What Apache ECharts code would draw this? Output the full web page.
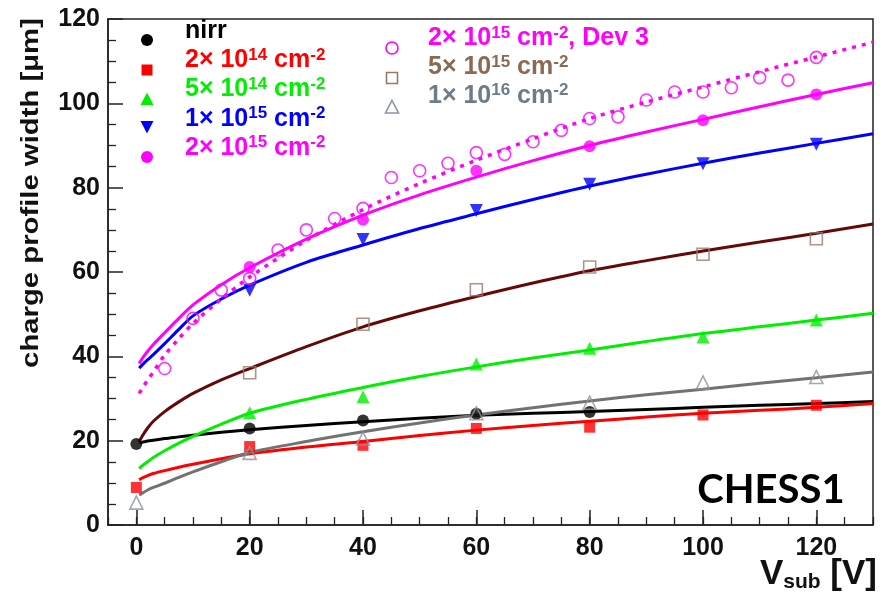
<!DOCTYPE html>
<html><head><meta charset="utf-8">
<script src="https://cdn.jsdelivr.net/npm/echarts@6/dist/echarts.min.js"></script>
<style>html,body{margin:0;padding:0;background:#fff}#c{width:889px;height:594px}</style>
</head><body><div id="c"></div>
<script>
// ---------- data ----------
const xTicks = [0, 20, 40, 60, 80, 100, 120];
const yTicks = [0, 20, 40, 60, 80, 100, 120];

const xNirr = [0, 20, 40, 60, 80];
const yNirr = [19.2, 22.9, 24.8, 26.4, 26.8];
const x2e14 = [0, 20, 40, 60, 80, 100, 120];
const y2e14 = [8.9, 18.6, 18.9, 22.9, 23.2, 26.1, 28.4];
const x5e14 = [20, 40, 60, 80, 100, 120];
const y5e14 = [26.6, 30.4, 38.2, 41.9, 44.6, 48.6];
const x1e15 = [20, 40, 60, 80, 100, 120];
const y1e15 = [55.7, 67.7, 74.6, 80.8, 85.7, 90.3];
const x2e15 = [20, 40, 60, 80, 100, 120];
const y2e15 = [61.2, 72.4, 84.0, 89.8, 96.0, 102.1];
const xDev3 = [5, 10, 15, 20, 25, 30, 35, 40, 45, 50, 55, 60, 65, 70, 75, 80, 85, 90, 95, 100, 105, 110, 115, 120];
const yDev3 = [37.1, 49.0, 55.7, 58.5, 65.2, 70.0, 72.7, 75.1, 82.4, 84.0, 85.8, 88.3, 87.9, 90.9, 93.6, 96.4, 96.8, 100.8, 102.7, 102.7, 103.7, 106.1, 105.5, 110.9];
const x5e15 = [20, 40, 60, 80, 100, 120];
const y5e15 = [36.1, 47.6, 55.8, 61.2, 64.2, 67.9];
const x1e16 = [0, 20, 40, 60, 80, 100, 120];
const y1e16 = [5.3, 17.1, 20.5, 26.5, 29.0, 33.8, 35.1];

// fit curves at these voltages
const fitX    = [0.5, 1, 2, 3, 5, 7.5, 10, 15, 20, 30, 40, 50, 60, 70, 80, 90, 100, 110, 120, 130];
const fitNirr = [19.5, 19.6, 19.9, 20.1, 20.5, 20.9, 21.3, 22.0, 22.6, 23.6, 24.5, 25.3, 26.0, 26.5, 26.9, 27.4, 27.9, 28.4, 28.8, 29.3];
const fit2e14 = [10.7, 11.1, 11.7, 12.2, 12.9, 13.7, 14.4, 15.7, 16.9, 18.5, 19.8, 21.2, 22.5, 23.6, 24.6, 25.6, 26.5, 27.2, 27.9, 28.8];
const fit5e14 = [13.4, 14.0, 15.0, 16.0, 17.6, 19.4, 21.0, 23.9, 26.5, 29.8, 32.6, 35.2, 37.5, 39.6, 41.5, 43.5, 45.4, 47.0, 48.6, 50.2];
const fit1e15 = [37.2, 37.9, 39.2, 40.4, 43.0, 46.4, 49.6, 53.6, 56.9, 62.3, 66.4, 70.3, 73.8, 77.2, 80.4, 83.2, 85.8, 88.2, 90.5, 92.8];
const fit2e15 = [38.3, 39.4, 41.2, 42.8, 45.6, 49.0, 52.2, 57.0, 61.0, 67.8, 73.5, 78.3, 82.5, 86.4, 90.0, 93.2, 96.2, 99.2, 102.1, 104.9];
const fitDev3 = [31.2, 32.3, 34.4, 36.3, 40.3, 44.2, 47.8, 53.6, 58.8, 67.5, 74.8, 81.0, 86.5, 91.6, 96.4, 100.3, 103.9, 107.5, 111.0, 114.5];
const fit5e15 = [19.7, 21.0, 23.0, 24.6, 26.9, 29.2, 31.2, 34.4, 37.1, 42.3, 47.0, 50.8, 54.2, 57.4, 60.3, 62.7, 65.0, 67.1, 69.2, 71.4];
const fit1e16 = [7.1, 7.5, 8.3, 8.9, 9.9, 11.3, 12.6, 15.0, 17.2, 19.8, 22.1, 24.2, 26.1, 27.8, 29.4, 30.9, 32.2, 33.6, 34.9, 36.3];

const legendLeft  = ['nirr', '2× 10^{14} cm^{-2}', '5× 10^{14} cm^{-2}', '1× 10^{15} cm^{-2}', '2× 10^{15} cm^{-2}'];
const legendRight = ['2× 10^{15} cm^{-2}, Dev 3', '5× 10^{15} cm^{-2}', '1× 10^{16} cm^{-2}'];
const yTitle = 'charge profile width [μm]';
const xTitle = 'V_{sub} [V]';
const tag = 'CHESS1';

// ---------- styling ----------
const FONT = "'Liberation Sans', Arial, sans-serif";
const C = {
  nirr: '#000000', r: '#ff0000', g: '#00ee00', b: '#0000ff', m: '#ff00ff',
  brownMk: '#9a7868', brownLine: '#650808', brownTxt: '#8a6a52',
  greyMk: '#8a949e', greyLine: '#727272', greyTxt: '#6d7c88'
};

function pairs(xs, ys) { return xs.map((x, i) => [x, ys[i]]); }

const series = [];
function fit(name, ys, color, dash) {
  series.push({
    type: 'line', name: name, data: pairs(fitX, ys), showSymbol: false,
    smooth: 0.3,
    silent: true, z: 2, xAxisIndex: 0, yAxisIndex: 0,
    lineStyle: { color: color, width: dash ? 3.5 : 3, type: dash || 'solid', cap: 'butt' }
  });
}
fit('fit nirr', fitNirr, C.nirr);
fit('fit 2e14', fit2e14, C.r);
fit('fit 5e14', fit5e14, C.g);
fit('fit 1e15', fit1e15, C.b);
fit('fit 2e15', fit2e15, C.m);
fit('fit Dev3', fitDev3, C.m, [4, 6]);
fit('fit 5e15', fit5e15, C.brownLine);
fit('fit 1e16', fit1e16, C.greyLine);

function pts(name, xs, ys, symbol, size, fill, stroke, rot) {
  series.push({
    type: 'scatter', name: name, data: pairs(xs, ys), symbol: symbol, symbolSize: size,
    symbolRotate: rot || 0, z: 5, xAxisIndex: 0, yAxisIndex: 0,
    itemStyle: stroke ? { color: 'rgba(0,0,0,0)', borderColor: stroke, borderWidth: 1.6 } : { color: fill }
  });
}
pts('nirr', xNirr, yNirr, 'circle', 12, C.nirr);
pts('2e14', x2e14, y2e14, 'rect', 11, C.r);
pts('5e14', x5e14, y5e14, 'triangle', 13, C.g);
pts('1e15', x1e15, y1e15, 'triangle', 13, C.b, null, 180);
pts('2e15', x2e15, y2e15, 'circle', 12, C.m);
pts('Dev3', xDev3, yDev3, 'circle', 12, null, C.m);
pts('5e15', x5e15, y5e15, 'rect', 12, null, C.brownMk);
pts('1e16', x1e16, y1e16, 'triangle', 13, null, C.greyMk);

// ---------- graphic texts ----------
function toRich(str) {
  return str.split(/(\^\{[^}]*\}|_\{[^}]*\})/).filter(Boolean).map(p => {
    if (p.startsWith('^{')) return '{s|' + p.slice(2, -1) + '}';
    if (p.startsWith('_{')) return '{d|' + p.slice(2, -1) + '}';
    return '{n|' + p + '}';
  }).join('');
}
function legendText(str, x, y, color) {
  return {
    type: 'text', x: x, y: y, z: 20, silent: true,
    style: {
      text: toRich(str), align: 'left', verticalAlign: 'middle',
      rich: {
        n: { fontSize: 25, fontWeight: 'bold', fontFamily: FONT, fill: color, lineHeight: 28 },
        s: { fontSize: 17, fontWeight: 'bold', fontFamily: FONT, fill: color, lineHeight: 13, verticalAlign: 'top' }
      }
    }
  };
}
function marker(kind, cx, cy, color, hollow) {
  const st = hollow ? { fill: 'none', stroke: color, lineWidth: 1.6 } : { fill: color };
  if (kind === 'circle') return { type: 'circle', shape: { cx: cx, cy: cy, r: 6 }, style: st, z: 20, silent: true };
  if (kind === 'rect') return { type: 'rect', shape: { x: cx - 5.5, y: cy - 5.5, width: 11, height: 11 }, style: st, z: 20, silent: true };
  if (kind === 'up') return { type: 'polygon', shape: { points: [[cx, cy - 6.5], [cx + 6.5, cy + 6], [cx - 6.5, cy + 6]] }, style: st, z: 20, silent: true };
  return { type: 'polygon', shape: { points: [[cx, cy + 6.5], [cx + 6.5, cy - 6], [cx - 6.5, cy - 6]] }, style: st, z: 20, silent: true };
}

const graphics = [];
const leftY = [31.2, 60.4, 89.6, 118.8, 148];
const leftMk = [40, 70, 99, 127, 157];
const leftCol = [C.nirr, C.r, C.g, C.b, C.m];
const leftKind = ['circle', 'rect', 'up', 'down', 'circle'];
legendLeft.forEach((t, i) => {
  graphics.push(marker(leftKind[i], 147, leftMk[i], leftCol[i], false));
  graphics.push(legendText(t, 185, leftY[i], leftCol[i]));
});
const rightY = [38.5, 67.5, 96];
const rightMk = [48, 78, 107];
const rightMkCol = [C.m, C.brownMk, C.greyMk];
const rightTxtCol = [C.m, C.brownTxt, C.greyTxt];
const rightKind = ['circle', 'rect', 'up'];
legendRight.forEach((t, i) => {
  graphics.push(marker(rightKind[i], 392, rightMk[i], rightMkCol[i], true));
  graphics.push(legendText(t, 428, rightY[i], rightTxtCol[i]));
});
// y axis title
graphics.push({
  type: 'text', x: 31, y: 193, rotation: Math.PI / 2, scaleX: 1.22, z: 20, silent: true,
  style: { text: yTitle, align: 'center', verticalAlign: 'middle', fontSize: 24, fontWeight: 'bold', fontFamily: FONT, fill: '#111' }
});
// x axis title
graphics.push({
  type: 'text', x: 877, y: 574, z: 20, silent: true,
  style: {
    text: toRich(xTitle), align: 'right', verticalAlign: 'middle',
    rich: {
      n: { fontSize: 35, fontWeight: 'bold', fontFamily: FONT, fill: '#111', lineHeight: 38 },
      d: { fontSize: 21, fontWeight: 'bold', fontFamily: FONT, fill: '#111', lineHeight: 14, verticalAlign: 'bottom' }
    }
  }
});
// tag
graphics.push({
  type: 'text', x: 771, y: 490, z: 20, silent: true,
  style: { text: tag, align: 'center', verticalAlign: 'middle', fontSize: 40, fontWeight: 'bold', fontFamily: "Lato, 'Open Sans', sans-serif", fill: '#000' }
});

const axisCol = '#222';
const option = {
  animation: false,
  backgroundColor: '#ffffff',
  grid: [
    { left: 108, right: 16, top: 19, bottom: 69, show: true, borderColor: axisCol, borderWidth: 1.5, backgroundColor: 'rgba(0,0,0,0)' },
    { left: 108, right: 16, top: 19, bottom: 69, show: false }
  ],
  xAxis: [
    {
      gridIndex: 0, type: 'value', min: -5, max: 130, interval: 5,
      axisLine: { show: true, onZero: false, lineStyle: { color: axisCol, width: 1.5 } },
      axisTick: { show: true, inside: true, length: 15, customValues: xTicks, lineStyle: { color: axisCol, width: 1.5 } },
      axisLabel: { customValues: xTicks, fontSize: 25, fontWeight: 'bold', fontFamily: FONT, color: '#111', margin: 11 },
      splitLine: { show: false }
    },
    {
      gridIndex: 1, type: 'value', min: -5, max: 130, interval: 5,
      axisLine: { show: false },
      axisTick: { show: true, inside: true, length: 8, lineStyle: { color: axisCol, width: 1.3 } },
      axisLabel: { show: false }, splitLine: { show: false }
    }
  ],
  yAxis: [
    {
      gridIndex: 0, type: 'value', min: 0, max: 120, interval: 20,
      axisLine: { show: true, onZero: false, lineStyle: { color: axisCol, width: 1.5 } },
      axisTick: { show: true, inside: true, length: 15, lineStyle: { color: axisCol, width: 1.5 } },
      minorTick: { show: true, splitNumber: 4, length: 8, lineStyle: { color: axisCol, width: 1.3 } },
      axisLabel: { fontSize: 25, fontWeight: 'bold', fontFamily: FONT, color: '#111', margin: 8,
                   formatter: v => (yTicks.indexOf(v) >= 0 ? String(v) : '') },
      splitLine: { show: false }
    },
    { gridIndex: 1, type: 'value', min: 0, max: 120, show: false }
  ],
  series: series,
  graphic: graphics
};
echarts.init(document.getElementById('c'), null, { renderer: 'canvas' }).setOption(option);
</script>
</body></html>
